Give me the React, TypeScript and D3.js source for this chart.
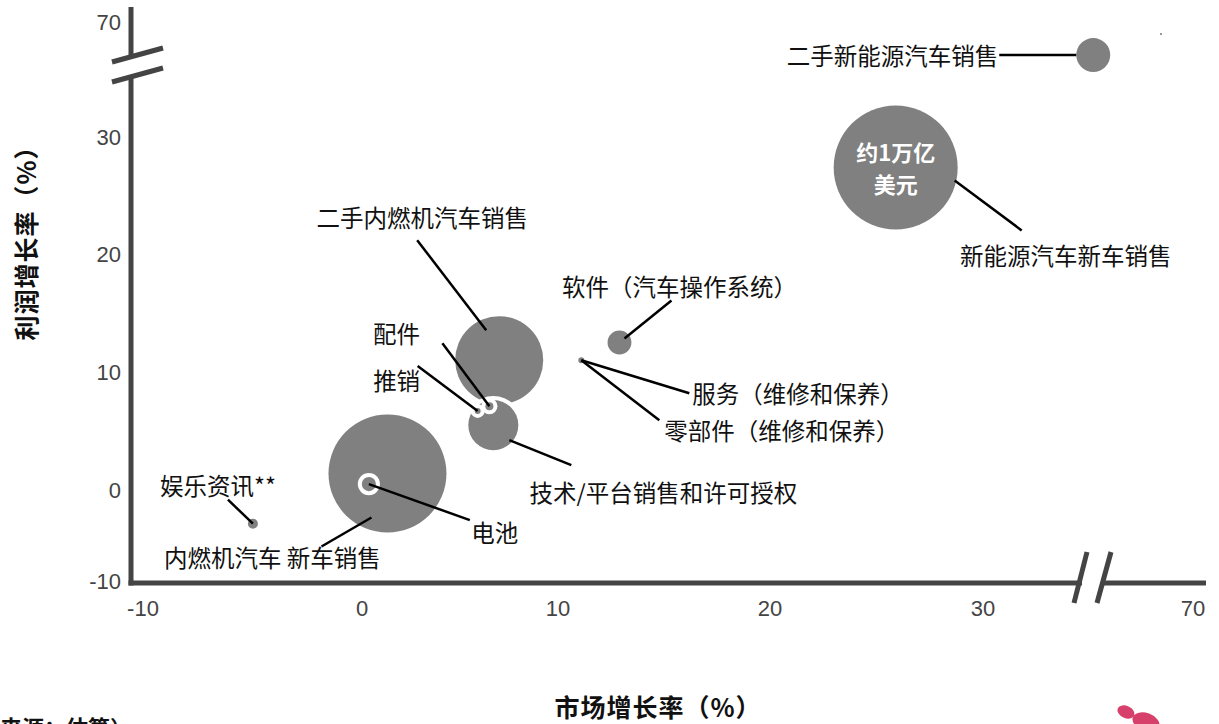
import React from "react";
import * as d3 from "d3";

// bubbles
const names = [
  "内燃机汽车 新车销售",
  "新能源汽车新车销售",
  "二手内燃机汽车销售",
  "技术/平台销售和许可授权",
  "二手新能源汽车销售",
  "软件（汽车操作系统）",
  "电池",
  "娱乐资讯**",
  "配件",
  "推销",
  "服务（维修和保养）",
  "零部件（维修和保养）",
];
const marketGrowth = [1.3, 25.9, 7.0, 6.7, 51, 12.9, 0.35, -5.05, 6.5, 5.9, 11.1, 11.1];
const profitGrowth = [1.4, 27.4, 11.0, 5.5, 58.5, 12.5, 0.5, -3.7, 7.1, 6.7, 11.0, 11.0];
const marketSize = [905, 1000, 504, 163, 75, 37, 13, 6.5, 4.2, 2.3, 2.3, 2.3];

// ticks
const xTicks = [-10, 0, 10, 20, 30, 70];
const yTicks = [-10, 0, 10, 20, 30, 70];

const bubbleText = ["约1万亿", "美元"];
const xTitle = "市场增长率（%）";
const yTitle = "利润增长率（%）";
const footNote = "（来源：估算）";

// leader line / label layout, px offsets from the bubble centre
// [lineStartDx, lineStartDy, lineEndDx, lineEndDy, textDx, textDy, anchor]
const layout: Record<string, [number, number, number, number, number, number, string]> = {
  "内燃机汽车 新车销售": [-16, 44, -66, 73, -115, 84, "middle"],
  "新能源汽车新车销售": [59, 13, 126, 63, 170, 88, "middle"],
  "二手内燃机汽车销售": [-13, -30, -82, -120, -77, -143, "middle"],
  "技术/平台销售和许可授权": [16, 15, 78, 40, 170, 67, "middle"],
  "二手新能源汽车销售": [-17, 0, -94, 0, -95, 0, "end"],
  "软件（汽车操作系统）": [5, -4, 52, -42, 60, -57, "middle"],
  "电池": [0, 0, 101, 36, 126, 48, "middle"],
  "娱乐资讯**": [0, 0, -25, -24, -35, -39, "middle"],
  "配件": [0, 0, -47, -63, -93, -73, "middle"],
  "推销": [0, 0, -60, -45, -81, -31, "middle"],
  "服务（维修和保养）": [0, 0, 108, 33, 111, 33, "start"],
  "零部件（维修和保养）": [0, 0, 78, 60, 83, 70, "start"],
};

const W = 1219;
const H = 724;
const cjk = "'Noto Sans CJK SC', 'Noto Sans', sans-serif";
const num = "'Liberation Sans', Arial, sans-serif";
const axisColor = "#444";
const bubbleColor = "#808080";

export default function App() {
  const x = d3.scaleLinear().domain(xTicks).range([146, 362, 558, 770, 983, 1193]);
  const y = d3.scaleLinear().domain(yTicks).range([581, 490, 372, 254, 137, 22]);
  const r = d3.scaleSqrt().domain([0, d3.max(marketSize) as number]).range([0, 62]);

  const data = names
    .map((name, i) => ({
      name,
      cx: x(marketGrowth[i]),
      cy: y(profitGrowth[i]),
      rad: r(marketSize[i]),
    }))
    .sort((a, b) => b.rad - a.rad);

  const axisY = 583;
  const axisX = 131;

  return (
    <svg
      width={W}
      height={H}
      style={{ position: "absolute", left: 0, top: 0, background: "#fff" }}
    >
      {/* bubbles with white halo */}
      {data.map((d) => (
        <g key={d.name}>
          <circle cx={d.cx} cy={d.cy} r={d.rad + 4} fill="#fff" />
          <circle cx={d.cx} cy={d.cy} r={d.rad} fill={bubbleColor} />
        </g>
      ))}

      {/* leader lines and labels */}
      {data.map((d) => {
        const l = layout[d.name];
        return (
          <g key={"lab" + d.name}>
            <line
              x1={d.cx + l[0]}
              y1={d.cy + l[1]}
              x2={d.cx + l[2]}
              y2={d.cy + l[3]}
              stroke="#000"
              strokeWidth={2.5}
            />
            <text
              x={d.cx + l[4]}
              y={d.cy + l[5]}
              textAnchor={l[6] as any}
              dominantBaseline="central"
              fontFamily={cjk}
              fontSize={23.5}
              fill="#111"
            >
              {d.name}
            </text>
          </g>
        );
      })}

      {/* text inside biggest bubble */}
      {(() => {
        const big = data.find((d) => d.name === "新能源汽车新车销售")!;
        return bubbleText.map((t, i) => (
          <text
            key={t}
            x={big.cx}
            y={big.cy - 16 + i * 32}
            textAnchor="middle"
            dominantBaseline="central"
            fontFamily={cjk}
            fontWeight="bold"
            fontSize={22}
            fill="#fff"
          >
            {t}
          </text>
        ));
      })()}

      {/* y axis with break */}
      <line x1={axisX} y1={7} x2={axisX} y2={56} stroke={axisColor} strokeWidth={5} />
      <line x1={axisX} y1={75} x2={axisX} y2={axisY + 2.5} stroke={axisColor} strokeWidth={5} />
      <line x1={112} y1={62} x2={163} y2={48} stroke={axisColor} strokeWidth={5} />
      <line x1={112} y1={82} x2={163} y2={68} stroke={axisColor} strokeWidth={5} />

      {/* x axis with break */}
      <line x1={axisX - 2.5} y1={axisY} x2={1082} y2={axisY} stroke={axisColor} strokeWidth={5} />
      <line x1={1104} y1={axisY} x2={1206} y2={axisY} stroke={axisColor} strokeWidth={5} />
      <line x1={1087} y1={552} x2={1074} y2={603} stroke={axisColor} strokeWidth={5} />
      <line x1={1111} y1={552} x2={1097} y2={603} stroke={axisColor} strokeWidth={5} />

      {yTicks.map((t) => (
        <text
          key={"y" + t}
          x={121}
          y={y(t)}
          textAnchor="end"
          dominantBaseline="central"
          fontFamily={num}
          fontSize={22}
          fill={axisColor}
        >
          {t}
        </text>
      ))}
      {xTicks.map((t) => (
        <text
          key={"x" + t}
          x={t === -10 ? 143 : x(t)}
          y={608}
          textAnchor="middle"
          dominantBaseline="central"
          fontFamily={num}
          fontSize={22}
          fill={axisColor}
        >
          {t}
        </text>
      ))}

      {/* axis titles */}
      <text
        x={658}
        y={706}
        textAnchor="middle"
        dominantBaseline="central"
        fontFamily={cjk}
        fontWeight="bold"
        fontSize={25}
        letterSpacing={1}
        fill="#111"
      >
        {xTitle}
      </text>
      <text
        transform="translate(25,237) rotate(-90)"
        textAnchor="middle"
        dominantBaseline="central"
        fontFamily={cjk}
        fontWeight="bold"
        fontSize={25}
        letterSpacing={1}
        fill="#111"
      >
        {yTitle}
      </text>

      {/* cut-off footnote */}
      <text x={-22} y={736} fontFamily={cjk} fontWeight="bold" fontSize={22} fill="#111">
        {footNote}
      </text>

      {/* small logo */}
      <g fill="#d6406a">
        <ellipse cx={1126} cy={712} rx={9} ry={6} transform="rotate(25 1126 712)" />
        <ellipse cx={1146} cy={722} rx={14} ry={9} transform="rotate(20 1146 722)" />
      </g>
      <rect x={1160} y={33} width={2} height={2} fill="#999" />
    </svg>
  );
}
